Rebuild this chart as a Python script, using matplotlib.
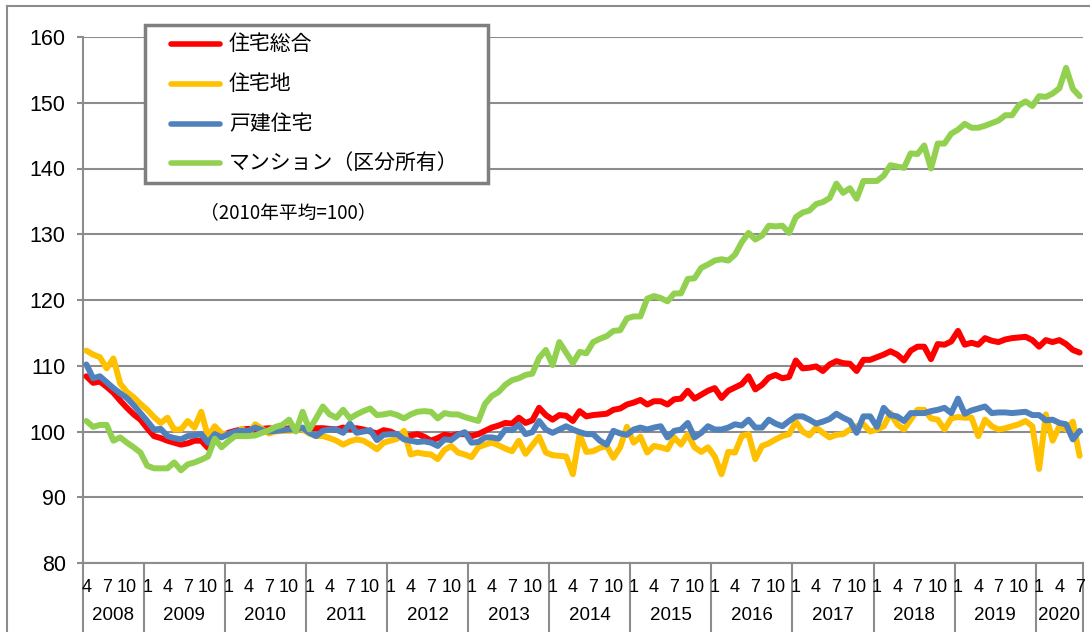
import matplotlib
matplotlib.use("Agg")
import matplotlib.pyplot as plt
import matplotlib.transforms as mtransforms
from matplotlib import font_manager
from matplotlib.lines import Line2D
from matplotlib.patches import Rectangle

# monthly categories, 2008/4 .. 2020/7
years = list(range(2008, 2021))
first_month, last_month = 4, 7
tick_months = [1, 4, 7, 10]

# 住宅総合
sogo = [108.4, 107.4, 107.6, 106.8, 105.9, 104.7, 103.6, 102.6, 101.8,
        100.5, 99.3, 99.0, 98.6, 98.3, 98.0, 98.2, 98.6, 98.6, 97.5, 99.5, 99.2,
        99.8, 100.1, 100.3, 100.4, 100.3, 100.4, 100.5, 100.4, 100.3, 100.5, 100.4, 100.3,
        100.5, 100.5, 100.5, 100.4, 100.3, 100.6, 100.4, 100.5, 100.3, 100.0, 99.7, 100.2,
        100.0, 99.5, 99.1, 99.4, 99.6, 99.2, 98.6, 99.0, 99.5, 99.3, 99.6, 99.6,
        99.3, 99.6, 100.1, 100.6, 100.9, 101.3, 101.2, 102.1, 101.3, 101.7, 103.6, 102.5,
        101.8, 102.5, 102.4, 101.6, 103.1, 102.3, 102.5, 102.6, 102.7, 103.3, 103.5, 104.1,
        104.4, 104.8, 104.1, 104.6, 104.6, 104.1, 104.9, 105.0, 106.2, 105.0, 105.6, 106.2,
        106.6, 105.1, 106.2, 106.7, 107.2, 108.4, 106.4, 107.1, 108.2, 108.6, 108.1, 108.3,
        110.8, 109.6, 109.7, 109.9, 109.2, 110.2, 110.7, 110.4, 110.3, 109.2, 110.9, 110.9,
        111.3, 111.7, 112.2, 111.7, 110.8, 112.3, 112.9, 112.9, 111.0, 113.3, 113.2, 113.7,
        115.3, 113.2, 113.5, 113.2, 114.2, 113.8, 113.6, 114.0, 114.2, 114.3, 114.4, 113.9,
        112.9, 113.9, 113.6, 113.9, 113.3, 112.4, 112.0]

# 住宅地
takuchi = [112.3, 111.7, 111.3, 109.6, 111.1, 107.3, 106.0, 105.2, 104.2,
           103.3, 102.2, 101.3, 102.1, 100.3, 100.3, 101.6, 100.6, 103.0, 99.2, 100.8, 99.7,
           99.5, 99.3, 100.4, 99.7, 101.1, 100.4, 99.7, 100.0, 100.1, 100.1, 100.2, 100.3,
           99.7, 99.3, 99.3, 99.0, 98.6, 98.0, 98.5, 98.8, 98.6, 98.0, 97.3, 98.3,
           98.6, 98.9, 100.1, 96.5, 96.8, 96.6, 96.5, 95.8, 97.2, 97.8, 96.8, 96.5,
           96.1, 97.6, 98.0, 98.3, 97.9, 97.4, 97.0, 98.6, 96.6, 97.9, 99.2, 96.8,
           96.4, 96.3, 96.2, 93.5, 99.6, 96.9, 97.0, 97.5, 97.8, 96.0, 97.6, 100.7,
           98.3, 99.2, 96.8, 97.8, 97.6, 97.3, 99.1, 98.0, 99.6, 97.6, 96.9, 97.6,
           96.2, 93.5, 96.9, 96.8, 99.3, 99.6, 95.8, 97.8, 98.2, 98.8, 99.3, 99.6,
           101.5, 100.0, 99.4, 100.6, 99.8, 99.1, 99.5, 99.6, 100.3, 100.8, 101.1, 100.0,
           100.3, 100.8, 102.8, 101.1, 100.3, 101.8, 103.3, 103.3, 102.0, 101.8, 100.3, 102.0,
           102.2, 102.1, 102.1, 99.3, 101.8, 100.8, 100.3, 100.5, 100.8, 101.1, 101.6, 100.8,
           94.3, 102.6, 98.6, 100.8, 100.3, 101.5, 96.3]

# 戸建住宅
kodate = [110.2, 108.1, 108.4, 107.5, 106.6, 105.8, 105.1, 104.0, 102.8,
          101.6, 100.3, 100.4, 99.3, 99.0, 98.8, 99.3, 99.4, 99.6, 98.3, 99.6, 99.1,
          99.6, 100.0, 100.1, 100.1, 100.6, 100.2, 100.0, 100.1, 100.2, 100.3, 100.3, 100.6,
          99.8, 99.3, 100.1, 100.3, 100.3, 99.8, 101.2, 99.8, 100.0, 100.2, 98.7, 99.5,
          99.6, 99.6, 98.8, 98.6, 98.4, 98.5, 98.3, 97.8, 98.8, 98.7, 99.5, 99.9,
          98.3, 98.4, 99.1, 99.1, 98.9, 100.3, 100.2, 101.0, 99.6, 99.9, 101.6, 100.3,
          99.8, 100.3, 100.8, 100.3, 99.9, 99.6, 99.6, 98.6, 98.0, 100.1, 99.7, 99.5,
          100.3, 100.6, 100.3, 100.6, 100.8, 99.1, 100.1, 100.3, 101.3, 99.1, 99.8, 100.8,
          100.3, 100.3, 100.6, 101.1, 100.9, 101.8, 100.6, 100.6, 101.8, 101.2, 100.8, 101.6,
          102.3, 102.3, 101.8, 101.2, 101.5, 101.9, 102.7, 102.1, 101.6, 99.8, 102.3, 102.3,
          100.7, 103.6, 102.5, 102.3, 101.6, 102.8, 102.8, 102.8, 103.1, 103.3, 103.6, 102.8,
          105.0, 102.7, 103.2, 103.5, 103.8, 102.8, 102.9, 102.9, 102.8, 102.9, 103.0, 102.5,
          102.5, 101.7, 101.8, 101.3, 101.1, 98.8, 100.1]

# マンション（区分所有）
mansion = [101.6, 100.7, 101.0, 101.0, 98.6, 99.1, 98.3, 97.6, 96.8,
           94.8, 94.4, 94.4, 94.4, 95.3, 94.1, 95.0, 95.3, 95.7, 96.2, 98.9, 97.6,
           98.5, 99.3, 99.3, 99.3, 99.4, 99.8, 100.2, 100.7, 101.0, 101.8, 100.0, 103.0,
           100.3, 102.0, 103.8, 102.6, 102.1, 103.3, 102.0, 102.6, 103.1, 103.5, 102.5, 102.6,
           102.8, 102.5, 102.0, 102.6, 103.0, 103.1, 103.0, 102.0, 102.8, 102.6, 102.6, 102.2,
           101.9, 101.6, 104.2, 105.4, 106.0, 107.1, 107.8, 108.1, 108.6, 108.8, 111.2, 112.4,
           110.1, 113.6, 112.0, 110.4, 112.1, 111.9, 113.6, 114.1, 114.5, 115.3, 115.4, 117.2,
           117.5, 117.5, 120.2, 120.6, 120.3, 119.8, 121.0, 121.0, 123.2, 123.3, 124.9, 125.4,
           126.0, 126.2, 126.0, 126.9, 128.8, 130.2, 129.2, 129.8, 131.3, 131.2, 131.3, 130.2,
           132.6, 133.3, 133.6, 134.6, 134.9, 135.5, 137.7, 136.3, 137.0, 135.4, 138.1, 138.1,
           138.1, 138.9, 140.5, 140.3, 140.1, 142.3, 142.2, 143.5, 140.0, 143.8, 143.8, 145.3,
           145.9, 146.8, 146.2, 146.2, 146.5, 146.9, 147.3, 148.1, 148.1, 149.6, 150.2, 149.5,
           151.0, 150.9, 151.4, 152.2, 155.3, 152.1, 151.0]

labels = ["住宅総合", "住宅地", "戸建住宅", "マンション（区分所有）"]
colors = ["#FF0000", "#FFC000", "#4F81BD", "#92D050"]
note = "（2010年平均=100）"

months = []
for yr in years:
    m0 = first_month if yr == years[0] else 1
    m1 = last_month if yr == years[-1] else 12
    months += [(yr, m) for m in range(m0, m1 + 1)]

# fonts
names = {f.name for f in font_manager.fontManager.ttflist}
num_font = "Liberation Sans Narrow" if "Liberation Sans Narrow" in names else "Liberation Sans"
jp_font = ["Noto Sans CJK JP", "DejaVu Sans"]
plt.rcParams["font.family"] = jp_font

W, H = 1090, 632
grey = "#8C8C8C"
fig = plt.figure(figsize=(W / 100, H / 100), dpi=100)
ax = fig.add_axes([83 / W, 1 - 563 / H, 1000 / W, 526 / H])

x = list(range(len(months)))
for vals, col in zip([sogo, takuchi, kodate, mansion], colors):
    ax.plot(x, vals, color=col, lw=4.3, solid_joinstyle="round",
            solid_capstyle="round", zorder=3)

ax.set_xlim(-0.5, len(months) - 0.5)
ax.set_ylim(80, 160)
ax.set_yticks(range(80, 161, 10))
ax.grid(axis="y", color=grey, lw=1.5)
ax.set_axisbelow(True)
for s in ["top", "right"]:
    ax.spines[s].set_visible(False)
for s in ["left", "bottom"]:
    ax.spines[s].set_color(grey)
    ax.spines[s].set_linewidth(1.5)
ax.set_xticks([])
ax.tick_params(axis="y", length=4.5, width=1.5, color=grey, pad=8)
for t in ax.get_yticklabels():
    t.set_fontfamily(num_font)
    t.set_fontsize(15.5)

# two level category axis
trans = mtransforms.blended_transform_factory(ax.transData, ax.transAxes)
y_month = (563 - 587) / 526
y_year = (563 - 616) / 526
y_sep = -72 / 526
for i, (yr, m) in enumerate(months):
    if m in tick_months:
        ax.text(i, y_month, str(m), transform=trans, ha="center", va="center",
                fontsize=13, family=num_font)
bounds = [i for i, (yr, m) in enumerate(months) if m == 1] + [0, len(months)]
for b in bounds:
    ax.add_line(Line2D([b - 0.5, b - 0.5], [0, y_sep], transform=trans,
                       color=grey, lw=1.5, clip_on=False))
for yr in years:
    idx = [i for i, (y, m) in enumerate(months) if y == yr]
    ax.text((idx[0] + idx[-1]) / 2, y_year, str(yr), transform=trans,
            ha="center", va="center", fontsize=13.5, family=num_font)

# chart area border (left and top edges visible)
fig.add_artist(Line2D([7 / W, 7 / W], [0, 1 - 6 / H], color=grey, lw=1.5))
fig.add_artist(Line2D([7 / W, 1], [1 - 6 / H, 1 - 6 / H], color=grey, lw=1.5))

# legend box
fig.add_artist(Rectangle((145 / W, 1 - 183 / H), 343 / W, 158 / H,
                         facecolor="white", edgecolor="#7F7F7F", lw=2.5, zorder=5))
rows = [44, 84, 124, 163]
for lab, col, ry in zip(labels, colors, rows):
    fy = 1 - ry / H
    fig.add_artist(Line2D([171 / W, 220 / W], [fy, fy], color=col, lw=4,
                          solid_capstyle="round", zorder=6))
    fig.text(229 / W, fy, lab, fontsize=15, va="center", ha="left", zorder=6)

fig.text(200 / W, 1 - 213 / H, note, fontsize=13.5, va="center", ha="left")

fig.savefig("out.png", dpi=100)
